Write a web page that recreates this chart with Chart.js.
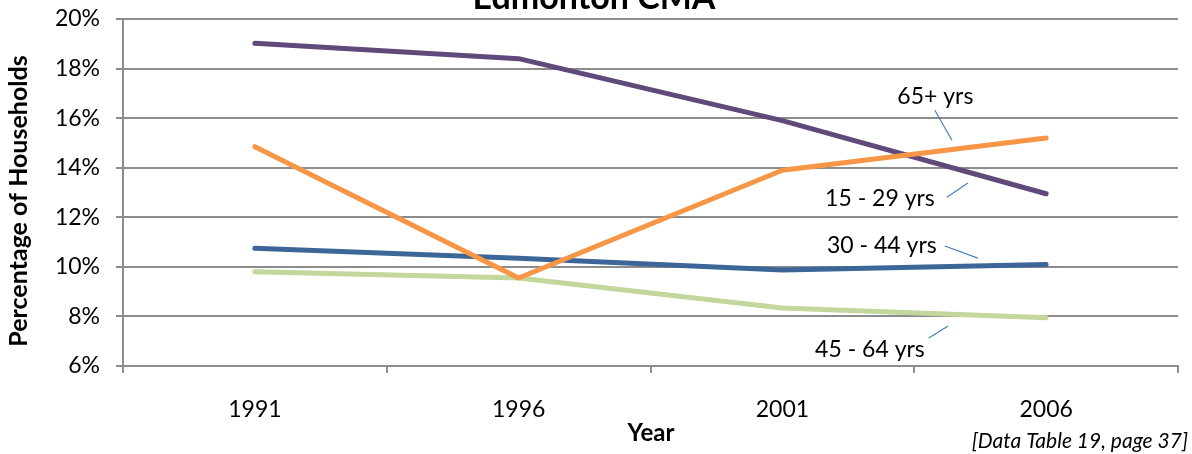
<!DOCTYPE html>
<html lang="en">
<head>
  <meta charset="UTF-8">
  <title>Edmonton CMA</title>
  <script src="https://cdn.jsdelivr.net/npm/chart.js"></script>
  <style>
    html, body { margin: 0; padding: 0; background: #fff; }
    #wrap { width: 1192px; height: 454px; position: relative; }
  </style>
</head>
<body>
  <div id="wrap"><canvas id="lineCanvas"></canvas></div>

  <script>
    // data
    const years = ['1991', '1996', '2001', '2006'];
    const age65plus = [14.85, 9.55, 13.9, 15.2];
    const age15to29 = [19.02, 18.4, 15.9, 12.95];
    const age30to44 = [10.75, 10.35, 9.87, 10.1];
    const age45to64 = [9.8, 9.55, 8.34, 7.95];
    const yTicks = [6, 8, 10, 12, 14, 16, 18, 20];

    // callout labels, placed in data units (category index, percent)
    const callouts = [
      { text: '65+ yrs', at: [2.58, 16.85], from: [2.578, 16.32], to: [2.643, 15.11] },
      { text: '15 - 29 yrs', at: [2.37, 12.77], from: [2.624, 12.81], to: [2.703, 13.38] },
      { text: '30 - 44 yrs', at: [2.377, 10.84], from: [2.616, 10.84], to: [2.741, 10.35] },
      { text: '45 - 64 yrs', at: [2.332, 6.65], from: [2.555, 7.13], to: [2.628, 7.61] }
    ];

    const FONT = 'Lato, "Open Sans", sans-serif';
    const gridGrey = '#8c8c8c';

    const extras = {
      id: 'extras',
      afterDraw(chart) {
        const ctx = chart.ctx;
        const xs = chart.scales.x, ys = chart.scales.y;
        const px = v => xs.getPixelForValue(v);
        ctx.save();
        // callouts
        ctx.font = '23px ' + FONT;
        ctx.fillStyle = '#000';
        ctx.textAlign = 'center';
        ctx.textBaseline = 'middle';
        ctx.strokeStyle = '#4a7ebb';
        ctx.lineWidth = 1.2;
        callouts.forEach(c => {
          ctx.fillText(c.text, px(c.at[0]), ys.getPixelForValue(c.at[1]));
          ctx.beginPath();
          ctx.moveTo(px(c.from[0]), ys.getPixelForValue(c.from[1]));
          ctx.lineTo(px(c.to[0]), ys.getPixelForValue(c.to[1]));
          ctx.stroke();
        });
        // axis titles
        ctx.font = 'bold 24px ' + FONT;
        ctx.fillText('Year', 651, 433);
        ctx.save();
        ctx.translate(19, 201);
        ctx.rotate(-Math.PI / 2);
        ctx.font = 'bold 25px ' + FONT;
        ctx.fillText('Percentage of Households', 0, 0);
        ctx.restore();
        // title, cut off at the top like the source
        ctx.font = 'bold 34px ' + FONT;
        ctx.textBaseline = 'alphabetic';
        ctx.fillText('Edmonton CMA', 594, 9);
        // source note
        ctx.font = 'italic 21px ' + FONT;
        ctx.textAlign = 'right';
        ctx.fillText('[Data Table 19, page 37]', 1188, 448);
        ctx.restore();
      }
    };

    const mkSet = (label, data, color) => ({
      label: label,
      data: data,
      borderColor: color,
      backgroundColor: color,
      borderWidth: 5,
      borderCapStyle: 'round',
      borderJoinStyle: 'round',
      pointRadius: 0,
      tension: 0,
      fill: false
    });

    new Chart(document.getElementById('lineCanvas'), {
      type: 'line',
      data: {
        labels: years,
        datasets: [
          mkSet('65+ yrs', age65plus, '#f79646'),
          mkSet('45 - 64 yrs', age45to64, '#c3d69b'),
          mkSet('30 - 44 yrs', age30to44, '#3c6697'),
          mkSet('15 - 29 yrs', age15to29, '#604a7b')
        ]
      },
      options: {
        responsive: true,
        maintainAspectRatio: false,
        animation: false,
        layout: { padding: { top: 19, right: 14, left: 0, bottom: 0 } },
        plugins: {
          legend: { display: false },
          tooltip: { enabled: false }
        },
        scales: {
          x: {
            offset: true,
            afterFit: s => { s.height = 88; s.paddingLeft = 0; s.paddingRight = 0; },
            grid: {
              offset: true,
              drawOnChartArea: false,
              drawTicks: true,
              tickLength: 7,
              color: gridGrey,
              lineWidth: 2
            },
            border: { color: gridGrey, width: 2 },
            ticks: { color: '#000', font: { family: FONT, size: 23 }, padding: 23 }
          },
          y: {
            min: 6,
            max: 20,
            afterFit: s => { s.width = 123; s.paddingTop = 0; s.paddingBottom = 0; },
            afterBuildTicks: s => { s.ticks = yTicks.map(v => ({ value: v })); },
            grid: { color: gridGrey, lineWidth: 2, tickLength: 7 },
            border: { color: gridGrey, width: 2 },
            ticks: {
              color: '#000',
              font: { family: FONT, size: 23 },
              padding: 16,
              callback: v => v + '%'
            }
          }
        }
      },
      plugins: [extras]
    });
  </script>
</body>
</html>
